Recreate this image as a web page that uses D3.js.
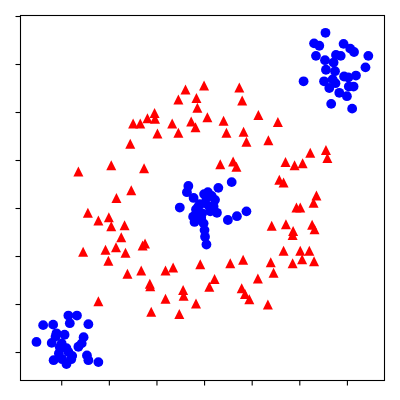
<!DOCTYPE html>
<html>
<head>
<meta charset="utf-8">
<script src="https://cdn.jsdelivr.net/npm/d3@7"></script>
<style>
  body { margin: 0; background: #fff; }
  svg { display: block; }
</style>
</head>
<body>
<svg id="chart" width="400" height="400"></svg>
<script>
// tick positions (labels are hidden in the reference)
var xTicks = [-3, -2, -1, 0, 1, 2, 3];
var yTicks = [-3, -2, -1, 0, 1, 2, 3, 4];

// red triangles: outer ring
var ringX = [0.00, -0.39, 0.74, -0.54, -0.16, -0.14, 0.80, -1.04, -1.19, -1.03,
  -1.49, -1.34, -0.98, -0.67, -0.54, -0.27, -0.18, 0.07, 0.41, 0.47,
  0.83, 0.89, 1.14, 1.55, 1.35, -1.55, -1.95, -2.64, -1.26, 0.34,
  0.61, 0.68, 1.71, 1.90, 2.07, 2.23, 2.56, 2.59, 1.58, 1.67,
  2.36, 2.30, 1.94, 2.02, 1.42, 1.72, 1.87, 1.86, 2.27, 2.32,
  1.67, 2.02, 2.21, 1.86, 2.06, 2.31, 1.40, 1.46, 1.13, 0.55,
  0.82, 0.22, 0.11, 0.79, 0.86, 0.95, 1.34, -0.08, -1.53, -1.84,
  -2.44, -2.22, -2.00, -1.95, -1.67, -1.74, -2.54, -2.07, -1.85, -1.65,
  -1.29, -1.24, -2.01, -1.61, -1.32, -0.81, -0.65, -1.14, -1.13, -0.44,
  -0.43, -0.81, -2.22, -1.11, -0.52, -0.17];
var ringY = [2.55, 2.47, 2.51, 2.26, 2.29, 2.09, 2.24, 1.98, 1.87, 1.86,
  1.76, 1.76, 1.55, 1.76, 1.57, 1.80, 1.68, 1.89, 1.82, 1.57,
  1.59, 1.38, 1.94, 1.79, 1.41, 1.34, 0.89, 0.76, 0.83, 0.91,
  0.97, 0.86, 0.96, 0.89, 0.93, 1.15, 1.21, 1.04, 0.59, 0.53,
  0.26, 0.11, 0.01, 0.01, -0.37, -0.34, -0.48, -0.56, -0.35, -0.44,
  -0.89, -0.89, -0.89, -1.15, -1.07, -1.11, -1.13, -1.35, -1.47, -1.15,
  -1.08, -1.48, -1.64, -1.67, -1.79, -1.90, -2.01, -1.17, 0.37, 0.21,
  -0.10, -0.26, -0.19, -0.38, -0.36, -0.61, -0.91, -0.87, -0.82, -0.93,
  -0.78, -0.74, -1.10, -1.37, -1.30, -1.30, -1.24, -1.58, -1.63, -1.71,
  -1.83, -1.89, -1.94, -2.16, -2.21, -1.99];

// blue circles: three blobs
var blobX = [
  // upper right
  2.55, 2.31, 2.42, 2.93, 3.07, 3.15, 3.45, 2.35, 2.54, 2.77,
  2.87, 2.72, 3.39, 2.56, 2.75, 2.94, 3.03, 3.19, 2.09, 2.52,
  2.70, 2.76, 2.63, 3.04, 3.14, 2.84, 3.00, 2.67, 3.11,
  // centre
  -0.33, -0.36, 0.30, 0.58, -0.51, -0.22, 0.08, 0.16, 0.23, -0.12,
  0.02, -0.15, 0.11, -0.04, 0.27, -0.23, -0.20, -0.01, 0.50, 0.69,
  0.89, 0.01, 0.02, 0.05, -0.09, 0.20, 0.05, -0.17, 0.13, -0.06, 0.00,
  // lower left
  -2.85, -2.67, -3.38, -3.17, -2.82, -2.43, -3.10, -2.93, -3.52, -3.20,
  -2.53, -2.57, -3.03, -2.89, -2.64, -3.05, -2.85, -2.46, -2.98, -2.79,
  -3.16, -2.43, -2.89, -2.22, -2.99, -2.77, -3.12];
var blobY = [
  3.65, 3.43, 3.38, 3.42, 3.32, 3.25, 3.17, 3.17, 3.08, 3.19,
  3.17, 3.03, 2.93, 2.88, 2.85, 2.74, 2.72, 2.76, 2.64, 2.64,
  2.68, 2.60, 2.50, 2.53, 2.53, 2.40, 2.33, 2.17, 2.07,
  0.46, 0.33, 0.42, 0.54, 0.01, 0.21, 0.33, 0.25, 0.17, 0.03,
  0.10, -0.11, 0.03, -0.11, -0.10, -0.18, -0.29, -0.32, -0.25, -0.17,
  -0.07, -0.46, -0.60, -0.76, 0.08, 0.03, 0.21, -0.03, -0.07, -0.21, 0.29,
  -2.24, -2.24, -2.44, -2.43, -2.40, -2.42, -2.61, -2.64, -2.79, -2.81,
  -2.69, -2.82, -2.90, -2.92, -2.89, -3.03, -3.00, -3.07, -3.15, -3.15,
  -3.17, -3.17, -3.25, -3.21, -2.82, -3.08, -2.68];

var svg = d3.select('#chart');
var pLeft = 20, pRight = 385, pTop = 15, pBottom = 380;

var x = d3.scaleLinear().domain([-3.866, 3.80]).range([pLeft, pRight]);
var y = d3.scaleLinear().domain([-3.583, 4.021]).range([pBottom, pTop]);

var ring = ringX.map(function(v, i) { return {x: v, y: ringY[i]}; });
var blobs = blobX.map(function(v, i) { return {x: v, y: blobY[i]}; });

svg.append('g')
  .selectAll('path')
  .data(ring)
  .enter()
  .append('path')
  .attr('d', 'M0,-5L5,5L-5,5Z')
  .attr('transform', function(d) { return 'translate(' + x(d.x) + ',' + y(d.y) + ')'; })
  .attr('fill', '#ff0000');

svg.append('g')
  .selectAll('circle')
  .data(blobs)
  .enter()
  .append('circle')
  .attr('cx', function(d) { return x(d.x); })
  .attr('cy', function(d) { return y(d.y); })
  .attr('r', 4.9)
  .attr('fill', '#0000ff');

// axes: ticks only, no labels
var xAxis = svg.append('g')
  .attr('transform', 'translate(0,' + (pBottom + 0.5) + ')')
  .call(d3.axisBottom(x).tickValues(xTicks).tickFormat('').tickSize(5).tickSizeOuter(0));
var yAxis = svg.append('g')
  .attr('transform', 'translate(' + (pLeft + 0.5) + ',0)')
  .call(d3.axisLeft(y).tickValues(yTicks).tickFormat('').tickSize(5).tickSizeOuter(0));
[xAxis, yAxis].forEach(function(g) {
  g.select('.domain').remove();
  g.selectAll('line').attr('stroke', '#000').attr('stroke-width', 1.1);
});

// frame
svg.append('rect')
  .attr('x', pLeft + 0.5)
  .attr('y', pTop + 0.5)
  .attr('width', pRight - pLeft - 1)
  .attr('height', pBottom - pTop)
  .attr('fill', 'none')
  .attr('stroke', '#000')
  .attr('stroke-width', 1.1);
</script>
</body>
</html>
